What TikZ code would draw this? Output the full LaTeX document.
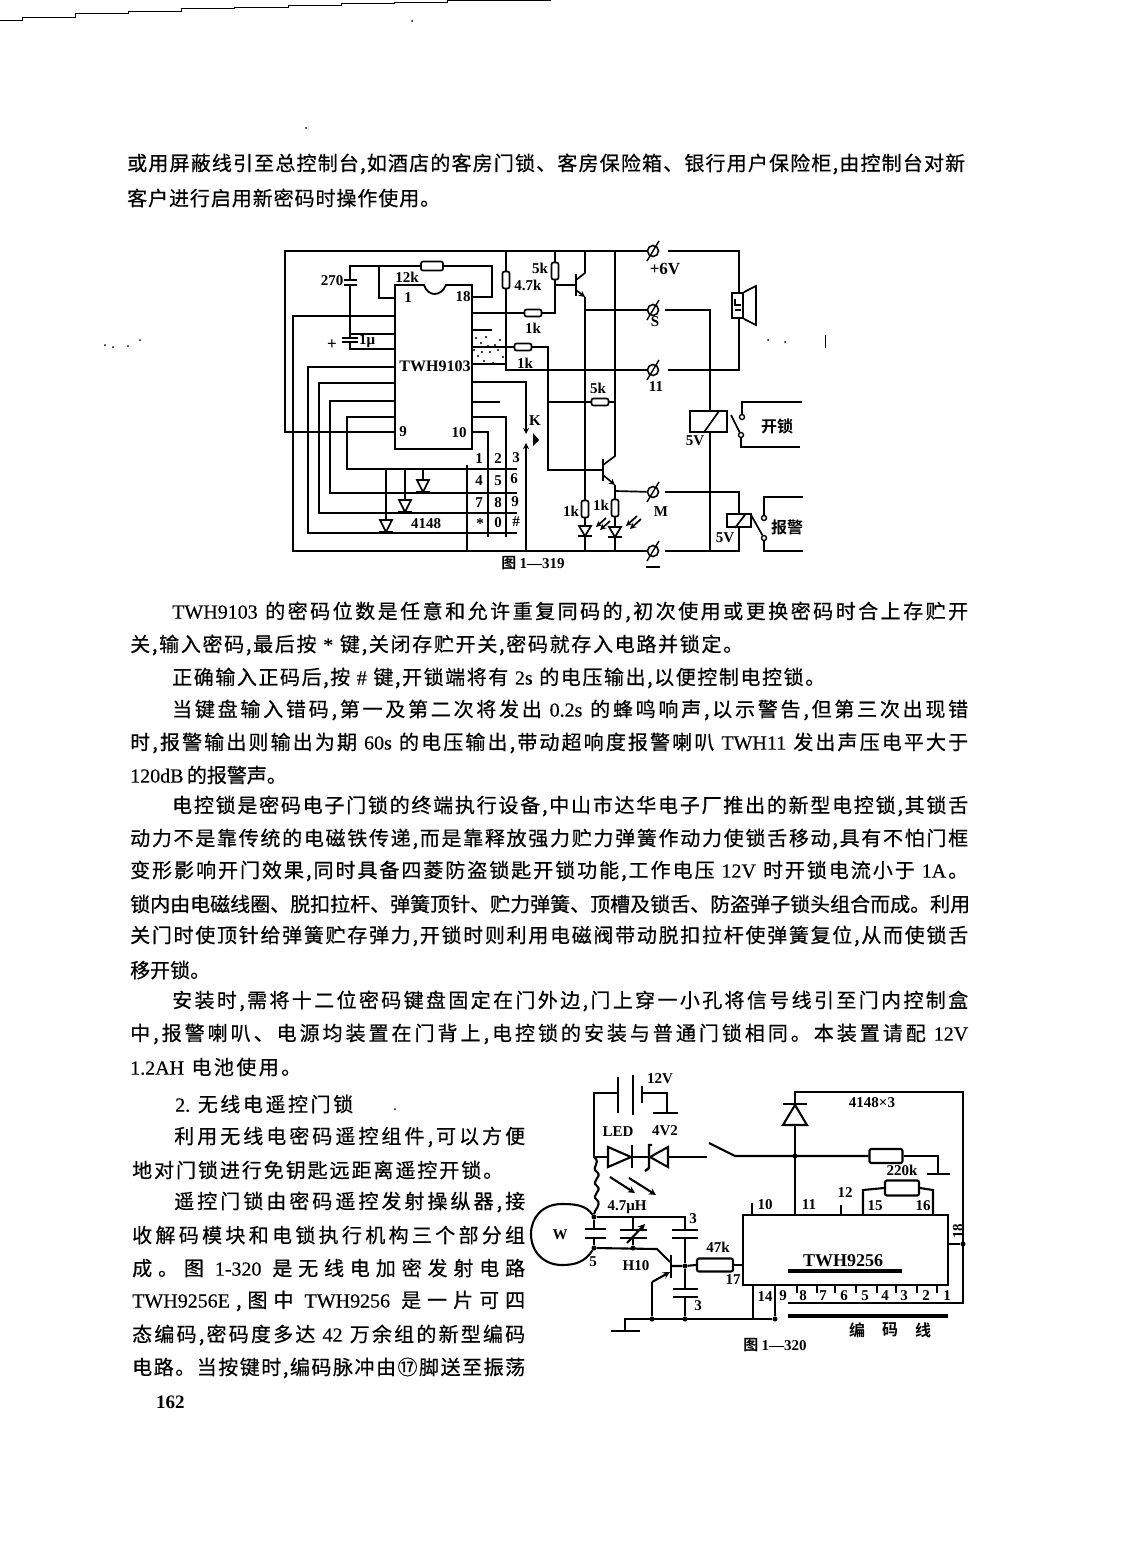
\documentclass[tikz,border=0pt]{standalone}
\usepackage{fontspec}
\setmainfont{Liberation Serif}
\newfontfamily\cjk[FakeBold=0.5]{Noto Sans CJK SC}
\newfontfamily\cjkb{Noto Sans CJK SC Bold}
\newfontfamily\tm[FakeBold=0.3]{Liberation Serif}
\usetikzlibrary{arrows}
\makeatletter
% sets a line with even stretch between its characters
\newcommand{\spreadtext}[1]{\@tfor\sp@c:=#1\do{{\sp@c}\hskip 0pt plus 1fil}\unskip}
\makeatother
% one printed line: name, x, y, width, text
\newcommand{\bline}[5]{\node[bodyline] (#1) at (#2,#3) {\hbox to #4pt{\spreadtext{#5}}};}

\begin{document}
\begin{tikzpicture}[
            x = 1pt, y = -1pt,
            > = stealth, % arrow head style
            wire/.style = {line width = 1.7pt},
            bodyline/.style = {anchor = west, inner sep = 0pt, font = \cjk\fontsize{20}{24}\selectfont},
            lab/.style = {inner sep = 0pt, font = \bfseries\fontsize{15}{16}\selectfont},
            cjklab/.style = {inner sep = 0pt, font = \cjkb\fontsize{16}{17}\selectfont},
            caption/.style = {inner sep = 0pt, font = \cjkb\fontsize{15}{16}\selectfont},
            chip/.style = {draw, line width = 1.8pt, inner sep = 0pt},
            res/.style = {draw, line width = 1.7pt, rounded corners = 2pt, inner sep = 0pt, fill = white},
            hres/.style = {res, minimum width = 17pt, minimum height = 7pt},
            vres/.style = {res, minimum width = 7pt, minimum height = 17pt},
            term/.style = {circle, draw, line width = 1.6pt, minimum size = 11pt, inner sep = 0pt},
            ball/.style = {circle, fill, minimum size = 5pt, inner sep = 0pt},
            ring/.style = {circle, draw, line width = 1.4pt, fill = white, minimum size = 5pt, inner sep = 0pt},
            coil/.style = {draw, line width = 1.7pt, fill = white, inner sep = 0pt},
            diodedown/.pic = {\draw[wire] (-6,-6) -- (6,-6) -- (0,6) -- cycle; \draw[wire] (-7,6) -- (7,6);},
            leddown/.pic = {\draw[wire] (-6,-5) -- (6,-5) -- (0,5) -- cycle; \draw[wire] (-7,5) -- (7,5);}
        ]
\useasboundingbox (0,0) rectangle (1122,1568);

% scan edge and specks
\draw[line width = 1pt] (0,21) -- (22,21) -- (22,18) -- (75,18) -- (75,14) -- (128,14) -- (128,12) -- (181,12) -- (181,9) -- (234,9) -- (234,8) -- (288,8) -- (288,6) -- (341,6) -- (341,4) -- (394,4) -- (394,2.5) -- (447,2.5) -- (447,1) -- (500,1) -- (500,0.5) -- (551,0.5);
\foreach \sx/\sy in {105/345,113/347,128/346,140/340,395/1109,768/340,785/342,412/21,306/128}
    \fill (\sx,\sy) circle (1pt);
\draw[line width = 1pt] (825,335) -- (825,348);
\foreach \sx/\sy in {476/338,481/343,486/337,490/352,495/345,500/340,503/357,478/356,484/361,493/363,498/350,488/346,474/350,505/347,482/352}
    \fill (\sx,\sy) circle (1.1pt);

% page text
\bline{ta}{127}{164}{838}{或用屏蔽线引至总控制台,如酒店的客房门锁、客房保险箱、银行用户保险柜,由控制台对新}
\bline{tb}{127}{198}{313}{客户进行启用新密码时操作使用。}
\bline{tc}{172}{612}{796}{{\tm TWH9103~}的密码位数是任意和允许重复同码的,初次使用或更换密码时合上存贮开}
\bline{td}{130}{645}{613}{关,输入密码,最后按{\tm ~*~}键,关闭存贮开关,密码就存入电路并锁定。}
\bline{te}{172}{678}{653}{正确输入正码后,按{\tm ~\#~}键,开锁端将有{\tm ~2s~}的电压输出,以便控制电控锁。}
\bline{tf}{172}{710}{796}{当键盘输入错码,第一及第二次将发出{\tm ~0.2s~}的蜂鸣响声,以示警告,但第三次出现错}
\bline{tg}{130}{743}{838}{时,报警输出则输出为期{\tm ~60s~}的电压输出,带动超响度报警喇叭{\tm ~TWH11~}发出声压电平大于}
\bline{th}{130}{775}{155}{{\tm 120dB~}的报警声。}
\bline{ti}{172}{806}{796}{电控锁是密码电子门锁的终端执行设备,中山市达华电子厂推出的新型电控锁,其锁舌}
\bline{tj}{130}{839}{838}{动力不是靠传统的电磁铁传递,而是靠释放强力贮力弹簧作动力使锁舌移动,具有不怕门框}
\bline{tk}{130}{871}{838}{变形影响开门效果,同时具备四菱防盗锁匙开锁功能,工作电压{\tm ~12V~}时开锁电流小于{\tm ~1A}。}
\bline{tl}{130}{904}{838}{锁内由电磁线圈、脱扣拉杆、弹簧顶针、贮力弹簧、顶槽及锁舌、防盗弹子锁头组合而成。利用}
\bline{tm}{130}{936}{838}{关门时使顶针给弹簧贮存弹力,开锁时则利用电磁阀带动脱扣拉杆使弹簧复位,从而使锁舌}
\bline{tn}{130}{970}{76}{移开锁。}
\bline{to}{172}{1001}{796}{安装时,需将十二位密码键盘固定在门外边,门上穿一小孔将信号线引至门内控制盒}
\bline{tp}{130}{1034}{838}{中,报警喇叭、电源均装置在门背上,电控锁的安装与普通门锁相同。本装置请配{\tm ~12V}}
\bline{tq}{130}{1067}{171}{{\tm 1.2AH~}电池使用。}
\bline{tr}{175}{1104}{178}{{\tm 2.~}无线电遥控门锁}
\bline{ts}{174}{1137}{351}{利用无线电密码遥控组件,可以方便}
\bline{tt}{132}{1170}{371}{地对门锁进行免钥匙远距离遥控开锁。}
\bline{tu}{174}{1202}{351}{遥控门锁由密码遥控发射操纵器,接}
\bline{tv}{132}{1235}{393}{收解码模块和电锁执行机构三个部分组}
\bline{tw}{132}{1268}{393}{成。图{\tm ~1-320~}是无线电加密发射电路}
\bline{tx}{132}{1301}{393}{{\tm TWH9256E},图中{\tm ~TWH9256~}是一片可四}
\bline{ty}{132}{1335}{393}{态编码,密码度多达{\tm ~42~}万余组的新型编码}
\bline{tz}{132}{1368}{393}{电路。当按键时,编码脉冲由⑰脚送至振荡}
\node[anchor = west, inner sep = 0pt, font = \bfseries\fontsize{19}{20}\selectfont] (pageno) at (156,1402) {162};

% ---- first circuit ----
\node[chip, minimum width = 77pt, minimum height = 164pt] (icA) at (433.5,367) {};
\fill[white] (425,283) rectangle (445,287);
\draw[line width = 1.8pt] (424,285) .. controls (428,297) and (441,297) .. (446,285);
\node[lab] (pin1) at (408,298) {1};
\node[lab] (pin18) at (463,297) {18};
\node[lab] (pin9) at (403,432) {9};
\node[lab] (pin10) at (459,433) {10};
\node[lab, font = \bfseries\fontsize{16}{17}\selectfont] (nameA) at (435,366) {TWH9103};

\node[hres, minimum width = 22pt, minimum height = 9pt] (r12k) at (432,266) {};
\node[vres] (r47k) at (506,280) {};
\node[vres] (r5ka) at (555,271) {};
\node[hres] (r1ka) at (533,313) {};
\node[hres] (r1kb) at (523,347) {};
\node[hres] (r5kb) at (600,402) {};
\node[vres] (r1kc) at (585,509) {};
\node[vres] (r1kd) at (615,508) {};

\node[term] (tP) at (653,251) {};
\node[term] (tS) at (653,310) {};
\node[term] (tE) at (653,370) {};
\node[term] (tM) at (653,492) {};
\node[term] (tG) at (653,551) {};
\foreach \t in {tP,tS,tE,tM,tG}
    \draw[line width = 1.4pt] ([shift={(-6,10)}]\t.center) -- ([shift={(6,-10)}]\t.center);

\node[coil, minimum width = 37pt, minimum height = 21pt] (relA) at (708.5,421.5) {};
\draw[wire] (relA.south) ++(-5,0) -- ++(15,-21);
\node[coil, minimum width = 24pt, minimum height = 13pt] (relB) at (739,520.5) {};
\draw[wire] (relB.south) ++(-4,0) -- ++(10,-13);
\node[ring] (ka) at (742,417) {};
\node[ring] (kb) at (741,435) {};
\node[ring] (kc) at (764,518) {};
\node[ring] (kd) at (764,538) {};
\draw[wire] (731,415) -- (kb);
\draw[wire] (751,515) -- (kd);

% power rails and left side
\draw[wire] (tP) -- (285,251) -- (285,432) -- (icA.west |- 0,432);
\draw[wire] (tG) -- (293,551) -- (293,316) -- (icA.west |- 0,316);
\draw[wire] (r12k.west) -- (350,266) -- (350,280);
\draw[wire] (379,266) -- (379,298) -- (icA.west |- 0,298);
\draw[wire] (r12k.east) -- (492,266) -- (492,297) -- (icA.east |- 0,297);
\draw[wire] (344,280) -- (357,280) (344,285) -- (357,285);
\draw[wire] (350,285) -- (350,334) -- (icA.west |- 0,334);
\draw[wire] (342,338) -- (358,338) (342,342) -- (358,342);
\draw[wire] (350,334) -- (350,338) (350,342) -- (350,349) -- (icA.west |- 0,349);
\draw[wire] (icA.west |- 0,367) -- (308,367) -- (308,533) -- (517,533);
\draw[wire] (icA.west |- 0,383) -- (319,383) -- (319,513) -- (517,513);
\draw[wire] (icA.west |- 0,401) -- (330,401) -- (330,493) -- (517,493);
\draw[wire] (icA.west |- 0,417) -- (347,417) -- (347,469) -- (517,469);

% matrix diodes
\pic (dca) at (386,526) {diodedown};
\pic (dcb) at (405,506) {diodedown};
\pic (dcc) at (423,486) {diodedown};
\draw[wire] (386,469) -- (386,520) (405,469) -- (405,500) (423,469) -- (423,480);
\node[lab] (l4148) at (426,524) {4148};

% keypad columns
\draw[wire] (467,465) -- (467,551);
\draw[wire] (icA.east |- 0,432) -- (488,432) -- (488,537);
\draw[wire] (icA.east |- 0,417) -- (506,417) -- (506,537);
\draw[wire,->] (icA.east |- 0,382) -- (526,382) -- (526,434);
\draw[wire,->] (526,551) -- (526,443);
\fill (533,433) -- (539,440) -- (533,446) -- cycle;
\draw[wire] (icA.east |- 0,402) -- (500,402);
\draw[wire] (icA.east |- 0,330) -- (492,330);
\foreach \kn/\kx/\ky/\kt in {ka/479/459/1,kb/498/459/2,kc/516/458/3,kd/479/481/4,ke/498/481/5,kf/514/479/6,kg/479/503/7,kh/498/503/8,ki/515/502/9,kj/480/524/*,kk/498/523/0,kl/516/522/\#}
    \node[lab] (key\kn) at (\kx,\ky) {\kt};

% right side of the chip
\draw[wire] (icA.east |- 0,313) -- (r1ka.west);
\draw[wire] (r1ka.east) -- (555,313) -- (r5ka.south);
\draw[wire] (r5ka.north) -- (555,251);
\draw[wire] (r47k.north) -- (506,251);
\draw[wire] (r47k.south) -- (506,370) -- (tE);
\draw[wire] (icA.east |- 0,364) -- (506,364);
\draw[wire] (icA.east |- 0,347) -- (r1kb.west);
\draw[wire] (r1kb.east) -- (548,347) -- (548,470) -- (603,470);
\draw[wire] (548,402) -- (r5kb.west);
\draw[wire] (r5kb.east) -- (615,402);

% transistors
\draw[line width = 2.2pt] (576,274) -- (576,296) (603,459) -- (603,481);
\draw[wire] (555,285) -- (576,285);
\draw[wire] (585,251) -- (585,273) -- (576,280);
\draw[wire,->] (576,290) -- (585,297);
\draw[wire] (585,297) -- (585,500.5);
\draw[wire] (585,310) -- (tS);
\draw[wire] (615,251) -- (615,456) -- (603,465);
\draw[wire,->] (603,475) -- (615,485);
\draw[wire] (615,485) -- (r1kd.north);
\draw[wire] (615,491) -- (tM);

% LEDs
\pic (ledA) at (585,531) {leddown};
\pic (ledB) at (615,532) {leddown};
\draw[wire] (r1kc.south) -- (585,526) (585,536) -- (585,551);
\draw[wire] (r1kd.south) -- (615,527) (615,537) -- (615,551);
\draw[wire,->] (606,518) -- (596,527);
\draw[wire,->] (610,521) -- (600,530);
\draw[wire,->] (637,516) -- (626,526);
\draw[wire,->] (641,519) -- (630,529);

% output side
\draw[wire] (668,251) -- (739,251) -- (739,293);
\node[coil, minimum width = 11pt, minimum height = 25pt] (spk) at (737.5,305.5) {};
\draw[wire] (spk.north east) -- (756,286) -- (756,325) -- (spk.south east);
\draw[wire] (739,318) -- (739,370) -- (668,370);
\draw[wire] (735,299) -- (735,305) -- (741,305) (735,310) -- (741,310);
\draw[wire] (665,310) -- (710,310) -- (710,411);
\draw[wire] (710,432) -- (710,551);
\draw[wire] (665,551) -- (739,551) -- (relB.south);
\draw[wire] (665,492) -- (739,492) -- (relB.north);
\draw[wire] (ka) -- (742,402) -- (802,402);
\draw[wire] (kb) -- (741,447) -- (800,447);
\draw[wire] (kc) -- (764,497) -- (803,497);
\draw[wire] (kd) -- (764,551) -- (803,551);

\node[lab] (l270) at (332,281) {270};
\node[lab] (l12k) at (407,277) {12k};
\node[lab, font = \bfseries\fontsize{17}{18}\selectfont] (lplus) at (332,345) {+};
\node[lab] (l1u) at (367,341) {1μ};
\node[lab] (l5ka) at (540,268) {5k};
\node[lab] (l47k) at (528,285) {4.7k};
\node[lab] (l1ka) at (533,328) {1k};
\node[lab] (l1kb) at (525,363) {1k};
\node[lab] (lk) at (535,421) {K};
\node[lab] (l5kb) at (598,388) {5k};
\node[lab] (l1kc) at (571,511) {1k};
\node[lab] (l1kd) at (601,505) {1k};
\node[lab, font = \bfseries\fontsize{17}{18}\selectfont] (l6v) at (665,269) {+6V};
\node[lab] (ls) at (655,322) {S};
\node[lab] (l11) at (656,387) {11};
\node[lab] (lm) at (661,512) {M};
\node[lab] (lv1) at (695,441) {5V};
\node[lab] (lv2) at (725,538) {5V};
\node[cjklab] (lopen) at (777,426) {开锁};
\node[cjklab] (lalarm) at (787,527) {报警};
\node[caption] (capA) at (533,563) {图 {\rmfamily\bfseries 1—319}};
\draw[line width = 2pt] (646,567) -- (660,567);

% ---- second circuit ----
\begin{scope}[wire/.style = {line width = 2.1pt}]
\node[chip, line width = 2.2pt, minimum width = 205pt, minimum height = 70pt] (icB) at (845.5,1250) {};
\node[lab, font = \bfseries\fontsize{18}{19}\selectfont] (nameB) at (843,1261) {TWH9256};
\draw[line width = 3.5pt] (788,1271) -- (902,1271);

\node[res, line width = 2.1pt, minimum width = 33pt, minimum height = 14pt] (r220a) at (886,1156) {};
\node[res, line width = 2.1pt, minimum width = 34pt, minimum height = 15pt] (r220b) at (902,1188) {};
\node[res, line width = 2.1pt, minimum width = 36pt, minimum height = 13pt] (r47) at (715,1265) {};

% battery and ground
\draw[wire] (594,1158) -- (594,1093) -- (618,1093);
\draw[line width = 2.4pt] (618,1077) -- (618,1113) (633,1075) -- (633,1115) (642,1086) -- (642,1103);
\draw[wire] (642,1093) -- (667,1093) -- (667,1113);
\draw[wire] (653,1113) -- (678,1113);

% led and zener
\draw[wire] (594,1157) -- (608,1157);
\draw[wire] (608,1147) -- (608,1167) -- (631,1157) -- cycle;
\draw[line width = 2.4pt] (632,1145) -- (632,1168);
\draw[wire] (632,1157) -- (649,1157);
\draw[wire] (668,1147) -- (668,1167) -- (650,1157) -- cycle;
\draw[line width = 2.4pt] (652,1145) -- (649,1145) -- (649,1168) -- (645,1171);
\draw[wire] (668,1157) -- (707,1157);
\draw[wire] (709,1143) -- (735,1156) -- (r220a.west);
\draw[wire,->] (610,1177) -- (635,1193);
\draw[wire,->] (629,1178) -- (656,1195);
\draw[wire] (r220a.east) -- (938,1156) -- (938,1174);
\draw[wire] (927,1174) -- (950,1174);

% antenna loop and tank
\node[ball] (ja) at (594,1217) {};
\node[ball] (jb) at (594,1248) {};
\node[ball] (jc) at (633,1248) {};
\node[ball] (jd) at (685,1266) {};
\node[ball] (je) at (652,1319) {};
\node[ball] (jf) at (685,1319) {};
\node[ball] (jg) at (795,1156) {};
\node[ball] (jh) at (775,1319) {};
\node[ball] (ji) at (963,1244) {};
\draw[wire] (ja) .. controls (586,1205) and (575,1204) .. (562,1204) .. controls (542,1204) and (531,1218) .. (531,1234) .. controls (531,1252) and (544,1265) .. (562,1265) .. controls (575,1265) and (585,1262) .. (jb);
\draw[wire] (594,1157) .. controls (602,1163) and (590,1167) .. (597,1172) .. controls (603,1177) and (590,1181) .. (597,1186) .. controls (603,1191) and (590,1195) .. (597,1200) .. controls (602,1205) and (594,1210) .. (ja);
\draw[wire] (ja) -- (594,1229) (jb) -- (594,1238);
\draw[wire] (585,1229) -- (606,1229) (585,1238) -- (606,1238);
\draw[wire] (ja) -- (685,1217) -- (685,1229);
\draw[wire] (672,1230) -- (698,1230) (672,1238) -- (698,1238);
\draw[wire] (633,1217) -- (633,1230) (633,1238) -- (jc);
\draw[wire] (620,1230) -- (647,1230) (620,1238) -- (647,1238);
\draw[wire,->] (627,1243) -- (645,1224);
\draw[wire] (jb) -- (657,1249) -- (670,1262);
\draw[line width = 2.6pt] (671,1255) -- (671,1278);
\draw[wire] (671,1266) -- (jd) -- (r47.west);
\draw[wire] (r47.east) -- (icB.west |- 0,1265);
\draw[wire] (685,1238) -- (jd) -- (685,1289);
\draw[wire] (673,1289) -- (698,1289) (673,1297) -- (698,1297);
\draw[wire] (685,1297) -- (jf);
\draw[wire,->] (652,1282) -- (670,1272);
\draw[wire] (652,1282) -- (je);
\draw[wire] (625,1331) -- (625,1319) -- (jh);
\draw[line width = 2.6pt] (611,1331) -- (640,1331);
\draw[wire] (753,1285) -- (753,1319) (jh) -- (775,1285);

% diode rail and bus
\draw[wire] (795,1215) -- (795,1125);
\draw[wire] (795,1104) -- (795,1092) -- (963,1092) -- (963,1303) -- (788,1303);
\draw[wire] (783,1125) -- (807,1125) -- (795,1105) -- cycle;
\draw[line width = 2.4pt] (783,1104) -- (807,1104);
\draw[wire] (icB.east |- 0,1244) -- (ji);
\draw[line width = 3.5pt] (788,1316) -- (948,1316);
\draw[wire] (752,1203) -- (752,1215) (841,1205) -- (841,1215);
\draw[wire] (863,1215) -- (863,1190) -- (r220b.west);
\draw[wire] (r220b.east) -- (933,1190) -- (933,1215);
\foreach \tx in {797,817,835,856,877,896,917,937}
    \draw[wire] (\tx,1286) -- (\tx,1293);

\node[lab] (l12v) at (660,1079) {12V};
\node[lab] (lled) at (618,1132) {LED};
\node[lab] (l4v) at (665,1131) {4V2};
\node[lab] (lw) at (560,1235) {W};
\node[lab] (l47u) at (627,1207) {4.7μH};
\node[lab] (l3a) at (693,1219) {3};
\node[lab] (l3b) at (698,1306) {3};
\node[lab] (l5) at (593,1262) {5};
\node[lab] (lh10) at (636,1266) {H10};
\node[lab] (l47r) at (718,1247) {47k};
\node[lab] (l17) at (733,1280) {17};
\node[lab] (lx3) at (872,1103) {4148×3};
\node[lab] (l220) at (902,1170) {220k};
\node[lab] (l10) at (765,1205) {10};
\node[lab] (l11b) at (809,1205) {11};
\node[lab] (l12) at (845,1193) {12};
\node[lab] (l15) at (875,1206) {15};
\node[lab] (l16) at (923,1206) {16};
\node[lab, rotate = 90] (l18) at (958,1231) {18};
\node[lab] (l14) at (765,1297) {14};
\foreach \pn/\px in {9/783,8/803,7/823,6/844,5/865,4/885,3/904,2/926,1/947}
    \node[lab] (pb\pn) at (\px,1296) {\pn};
\node[cjklab] (lbian) at (857,1330) {编};
\node[cjklab] (lma) at (890,1330) {码};
\node[cjklab] (lxian) at (923,1330) {线};
\node[caption] (capB) at (775,1345) {图 {\rmfamily\bfseries 1—320}};
\end{scope}
\end{tikzpicture}
\end{document}
